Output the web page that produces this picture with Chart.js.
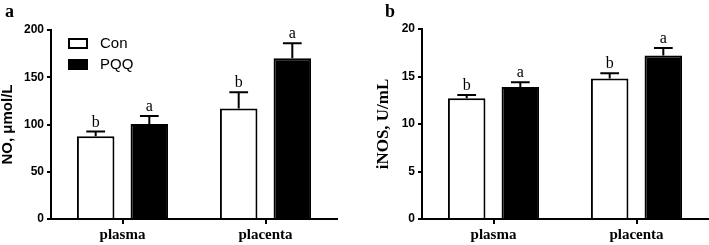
<!DOCTYPE html>
<html>
<head>
<meta charset="utf-8">
<script src="https://cdn.jsdelivr.net/npm/chart.js@4"></script>
<style>
  html, body { margin: 0; padding: 0; background: #fff; }
  #wrap { position: relative; width: 709px; height: 245px; }
  canvas { position: absolute; top: 0; }
  #cA { left: 0; }
  #cB { left: 355px; }
</style>
</head>
<body>
<div id="wrap">
  <canvas id="cA" width="355" height="245"></canvas>
  <canvas id="cB" width="354" height="245"></canvas>
</div>
<script>
// data
const categories = ['plasma', 'placenta'];
const groups = ['Con', 'PQQ'];

const noCon = [87.5, 117];
const noConErr = [5, 17];
const noPqq = [100.5, 170];
const noPqqErr = [8.5, 16];

const inosCon = [12.7, 14.8];
const inosConErr = [0.35, 0.55];
const inosPqq = [13.9, 17.2];
const inosPqqErr = [0.5, 0.8];

const conLetters = ['b', 'b'];
const pqqLetters = ['a', 'a'];

// error bars + significance letters, drawn from the bar elements / y scale
const errorPlugin = {
  id: 'errors',
  afterDatasetsDraw(chart) {
    const ctx = chart.ctx;
    const y = chart.scales.y;
    chart.data.datasets.forEach((ds, di) => {
      const meta = chart.getDatasetMeta(di);
      meta.data.forEach((bar, i) => {
        const top = y.getPixelForValue(ds.data[i] + ds.err[i]);
        const half = bar.width / 4;
        ctx.save();
        ctx.strokeStyle = '#000';
        ctx.lineWidth = 2;
        ctx.beginPath();
        ctx.moveTo(bar.x, bar.y);
        ctx.lineTo(bar.x, top);
        ctx.moveTo(bar.x - half, top);
        ctx.lineTo(bar.x + half, top);
        ctx.stroke();
        ctx.fillStyle = '#000';
        ctx.font = '16px "Liberation Serif", "Times New Roman", serif';
        ctx.textAlign = 'center';
        ctx.textBaseline = 'alphabetic';
        ctx.fillText(ds.letters[i], bar.x, top - 5);
        ctx.restore();
      });
    });
  }
};

// panel letter and optional inset legend
const decorPlugin = {
  id: 'decor',
  afterDraw(chart) {
    const o = chart.options.plugins.decor;
    const ctx = chart.ctx;
    ctx.save();
    ctx.fillStyle = '#000';
    ctx.font = 'bold 18px "Liberation Serif", "Times New Roman", serif';
    ctx.textAlign = 'left';
    ctx.textBaseline = 'alphabetic';
    ctx.fillText(o.panel, o.panelX, 17);
    if (o.legend) {
      chart.data.datasets.forEach((ds, i) => {
        const ly = 38 + i * 21;
        ctx.fillStyle = ds.backgroundColor;
        ctx.fillRect(68, ly, 20, 11);
        ctx.strokeStyle = '#000';
        ctx.lineWidth = 2;
        ctx.strokeRect(69, ly + 1, 18, 9);
        ctx.fillStyle = '#000';
        ctx.font = '15px "Liberation Sans", Arial, sans-serif';
        ctx.textBaseline = 'middle';
        ctx.fillText(ds.label, 100, ly + 6);
      });
    }
    ctx.restore();
  }
};

function makeChart(id, conVals, conErr, pqqVals, pqqErr, opt) {
  return new Chart(document.getElementById(id), {
    type: 'bar',
    data: {
      labels: categories,
      datasets: [{
        label: groups[0],
        data: conVals,
        err: conErr,
        letters: conLetters,
        backgroundColor: '#ffffff',
        borderColor: '#000000',
        borderWidth: 2,
        borderSkipped: 'start'
      }, {
        label: groups[1],
        data: pqqVals,
        err: pqqErr,
        letters: pqqLetters,
        backgroundColor: '#000000',
        borderColor: '#000000',
        borderWidth: 2,
        borderSkipped: 'start'
      }]
    },
    options: {
      responsive: false,
      devicePixelRatio: 1,
      animation: false,
      categoryPercentage: 0.75,
      barPercentage: 0.7,
      layout: { padding: opt.padding },
      plugins: {
        legend: { display: false },
        tooltip: { enabled: false },
        decor: { panel: opt.panel, panelX: opt.panelX, legend: opt.legend }
      },
      scales: {
        x: {
          afterFit: s => { s.height = 26; },
          grid: { offset: false, drawOnChartArea: false, tickLength: 5, color: '#000', lineWidth: 2 },
          border: { color: '#000', width: 2 },
          ticks: {
            color: '#000',
            padding: 2,
            font: { family: '"Liberation Serif", "Times New Roman", serif', size: 15, weight: 'bold' }
          }
        },
        y: {
          min: 0,
          max: opt.max,
          afterFit: s => { s.width = opt.yWidth; },
          grid: { drawOnChartArea: false, tickLength: 4, color: '#000', lineWidth: 2 },
          border: { color: '#000', width: 2 },
          ticks: {
            stepSize: opt.step,
            color: '#000',
            padding: 3,
            font: { family: '"Liberation Sans", Arial, sans-serif', size: 12, weight: 'bold' }
          },
          title: {
            display: true,
            text: opt.title,
            color: '#000',
            padding: { top: opt.titlePad, bottom: 0 },
            font: { family: opt.titleFamily, size: opt.titleSize, weight: 'bold', lineHeight: 1 }
          }
        }
      }
    },
    plugins: [errorPlugin, decorPlugin]
  });
}

makeChart('cA', noCon, noConErr, noPqq, noPqqErr, {
  padding: { left: 0, top: 30, right: 18, bottom: 0 },
  yWidth: 51, max: 200, step: 50,
  title: 'NO, μmol/L', titlePad: 0, titleSize: 15,
  titleFamily: '"Liberation Sans", Arial, sans-serif',
  panel: 'a', panelX: 5, legend: true
});

makeChart('cB', inosCon, inosConErr, inosPqq, inosPqqErr, {
  padding: { left: 0, top: 29, right: 1, bottom: 0 },
  yWidth: 67, max: 20, step: 5,
  title: 'iNOS, U/mL', titlePad: 20, titleSize: 17,
  titleFamily: '"Liberation Serif", "Times New Roman", serif',
  panel: 'b', panelX: 30, legend: false
});
</script>
</body>
</html>
